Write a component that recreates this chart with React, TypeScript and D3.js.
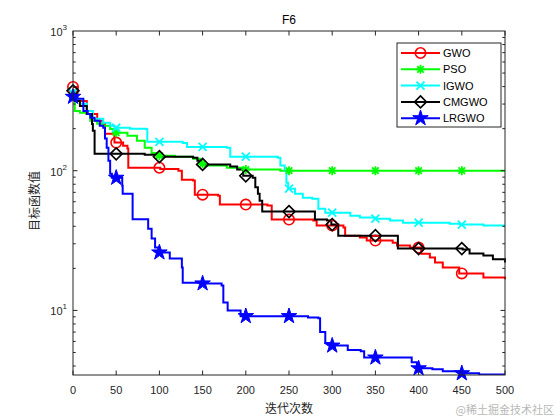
import React, { useRef, useEffect } from "react";
import * as d3 from "d3";

// convergence curves (iteration where a level starts, level value)
const gwoIter = [0, 5, 16, 28, 34, 37, 48, 58, 63, 64, 101, 122, 126, 139, 141, 168, 170, 225, 230, 278, 282, 313, 315, 332, 340, 370, 375, 390, 403, 413, 419, 428, 447, 475, 500];
const gwoVal = [398, 316, 255, 228, 217, 184, 159, 151, 144, 105, 103, 100, 86, 85, 67.4, 66.3, 57.2, 56.3, 44.7, 44, 40.5, 39.2, 34.3, 33.2, 31.6, 30.5, 29.1, 28.2, 25.5, 23.9, 22, 20.3, 18.4, 17.2, 16.7];

const psoIter = [0, 2, 8, 16, 20, 28, 35, 43, 48, 63, 74, 83, 91, 99, 118, 139, 147, 153, 178, 199, 240, 500];
const psoVal = [343, 268, 260, 255, 228, 217, 210, 199, 187, 178, 164, 146, 134, 128, 126, 122, 112, 109, 105, 102, 100, 100];

const igwoIter = [0, 2, 8, 16, 23, 35, 43, 48, 66, 84, 86, 101, 127, 132, 150, 178, 182, 199, 237, 240, 245, 247, 249, 257, 266, 277, 284, 292, 302, 321, 332, 349, 367, 382, 403, 436, 448, 475, 500];
const igwoVal = [360, 327, 301, 268, 235, 220, 210, 203, 200, 199, 161, 161, 158, 148, 148, 146, 126, 126, 124, 109, 100, 82, 74.4, 68.5, 64.1, 63.1, 53.5, 50.1, 50.1, 47.7, 46.2, 45.4, 44, 42.5, 42.5, 41.8, 41.2, 40.5, 40.5];

const cmgwoIter = [0, 2, 8, 16, 22, 23, 25, 83, 98, 139, 144, 149, 182, 190, 197, 208, 211, 214, 216, 219, 274, 280, 294, 299, 307, 375, 376, 444, 451, 459, 475, 486, 500];
const cmgwoVal = [373, 316, 291, 255, 216, 193, 132, 130, 126, 124, 118, 111, 107, 102, 92, 89, 76, 68.5, 61, 51, 51, 44.7, 44, 41.2, 34.3, 34.3, 27.7, 27.7, 27.3, 25.6, 24.7, 23.2, 22];

const lrgwoIter = [0, 5, 12, 17, 20, 25, 31, 35, 37, 39, 41, 43, 45, 51, 57, 57.5, 68, 69, 81, 87, 91, 95, 99, 112, 126, 127, 150, 172, 174, 179, 194, 272, 284, 286, 292, 299, 318, 333, 337, 387, 392, 398, 416, 428, 448, 470, 500];
const lrgwoVal = [338, 327, 268, 255, 239, 228, 210, 203, 170, 146, 118, 95, 89, 89, 78, 68.5, 68.5, 45, 45, 38.5, 32.7, 28.2, 26, 23.5, 20.3, 15.8, 15.6, 15.1, 11.4, 10, 9.1, 8.9, 8.8, 7.0, 5.85, 5.6, 5.2, 5.1, 4.6, 4.6, 4.25, 3.85, 3.79, 3.67, 3.55, 3.48, 3.48];

const seriesNames = ["GWO", "PSO", "IGWO", "CMGWO", "LRGWO"];
const seriesColors = ["#ff0000", "#00ff00", "#00ffff", "#000000", "#0000ff"];
const seriesMarkers = ["o", "*", "x", "d", "p"];
const seriesIters = [gwoIter, psoIter, igwoIter, cmgwoIter, lrgwoIter];
const seriesVals = [gwoVal, psoVal, igwoVal, cmgwoVal, lrgwoVal];

const markerIters = [0, 50, 100, 150, 200, 250, 300, 350, 400, 450];
const xTicks = [0, 50, 100, 150, 200, 250, 300, 350, 400, 450, 500];
const yTickExps = [1, 2, 3];

const W = 560;
const H = 420;
const margin = { left: 73, right: 55, top: 31, bottom: 45 };

const axisColor = "#262626";
const font = "'Liberation Sans', Arial, sans-serif";
const cjkFont = "'Noto Sans CJK SC', sans-serif";

function drawMarker(g: any, type: string, color: string) {
  if (type === "o") {
    g.append("circle").attr("r", 5.2).attr("fill", "none").attr("stroke", color).attr("stroke-width", 1.6);
  } else if (type === "d") {
    const s = 6;
    g.append("path")
      .attr("d", `M0,${-s}L${s},0L0,${s}L${-s},0Z`)
      .attr("fill", "none")
      .attr("stroke", color)
      .attr("stroke-width", 1.6);
  } else if (type === "x") {
    const s = 4;
    g.append("path")
      .attr("d", `M${-s},${-s}L${s},${s}M${-s},${s}L${s},${-s}`)
      .attr("stroke", color)
      .attr("stroke-width", 1.8);
  } else if (type === "*") {
    const s = 4.5;
    const d = s * 0.72;
    g.append("path")
      .attr("d", `M${-s},0L${s},0M0,${-s}L0,${s}M${-d},${-d}L${d},${d}M${-d},${d}L${d},${-d}`)
      .attr("stroke", color)
      .attr("stroke-width", 1.8);
  } else if (type === "p") {
    g.append("path")
      .attr("d", d3.symbol().type(d3.symbolStar).size(75)())
      .attr("fill", color)
      .attr("stroke", color)
      .attr("stroke-width", 1);
  }
}

export default function App() {
  const svgRef = useRef<SVGSVGElement | null>(null);

  useEffect(() => {
    if (!svgRef.current) return;
    const svg = d3.select(svgRef.current);
    svg.selectAll("*").remove();

    const x = d3.scaleLinear().domain([0, 500]).range([margin.left, W - margin.right]);
    const y = d3.scaleLog().domain([3.45, 1000]).range([H - margin.bottom, margin.top]);
    const [x0, x1] = x.range();
    const [y0, y1] = y.range();

    svg.append("rect").attr("width", W).attr("height", H).attr("fill", "#ffffff");

    svg.append("defs").append("clipPath").attr("id", "plot-clip")
      .append("rect").attr("x", x0).attr("y", y1 - 8).attr("width", x1 - x0 + 1).attr("height", y0 - y1 + 8);

    // curves
    const plot = svg.append("g").attr("clip-path", "url(#plot-clip)");
    seriesNames.forEach((name, si) => {
      const pts = seriesIters[si].map((it, i) => [it, seriesVals[si][i]] as [number, number]);
      const line = d3.line<[number, number]>()
        .x((d) => x(d[0]))
        .y((d) => y(d[1]))
        .curve(d3.curveStepAfter);
      plot.append("path")
        .datum(pts)
        .attr("fill", "none")
        .attr("stroke", seriesColors[si])
        .attr("stroke-width", 2)
        .attr("d", line);

      markerIters.forEach((mi) => {
        const idx = d3.bisectRight(seriesIters[si], mi) - 1;
        const v = seriesVals[si][Math.max(0, idx)];
        const g = svg.append("g").attr("transform", `translate(${x(mi)},${y(v)})`);
        drawMarker(g, seriesMarkers[si], seriesColors[si]);
      });
    });

    // axes box and ticks
    const axes = svg.append("g").attr("stroke", axisColor).attr("stroke-width", 1).attr("fill", "none");
    axes.append("rect").attr("x", x0).attr("y", y1).attr("width", x1 - x0).attr("height", y0 - y1);

    xTicks.forEach((t) => {
      const px = x(t);
      axes.append("line").attr("x1", px).attr("x2", px).attr("y1", y0).attr("y2", y0 - 4.5);
      axes.append("line").attr("x1", px).attr("x2", px).attr("y1", y1).attr("y2", y1 + 4.5);
      svg.append("text")
        .attr("x", px)
        .attr("y", y0 + 19)
        .attr("text-anchor", "middle")
        .attr("font-family", font)
        .attr("font-size", 11)
        .attr("fill", axisColor)
        .text(String(t));
    });

    const [yd0, yd1] = y.domain();
    for (let e = 0; e <= 2; e++) {
      for (let m = 1; m <= 9; m++) {
        const v = m * Math.pow(10, e);
        if (v < yd0 || v > yd1) continue;
        const py = y(v);
        const len = m === 1 ? 4.5 : 2.7;
        axes.append("line").attr("x1", x0).attr("x2", x0 + len).attr("y1", py).attr("y2", py);
        axes.append("line").attr("x1", x1).attr("x2", x1 - len).attr("y1", py).attr("y2", py);
      }
    }

    yTickExps.forEach((e) => {
      const py = y(Math.pow(10, e));
      const t = svg.append("text")
        .attr("x", x0 - 6)
        .attr("y", py + 5)
        .attr("text-anchor", "end")
        .attr("font-family", font)
        .attr("font-size", 11)
        .attr("fill", axisColor);
      t.append("tspan").text("10");
      t.append("tspan").attr("dy", -6).attr("font-size", 8).text(String(e));
    });

    // title and axis labels
    svg.append("text")
      .attr("x", (x0 + x1) / 2)
      .attr("y", 24)
      .attr("text-anchor", "middle")
      .attr("font-family", font)
      .attr("font-size", 12)
      .attr("fill", "#000000")
      .text("F6");

    svg.append("text")
      .attr("x", (x0 + x1) / 2)
      .attr("y", 413)
      .attr("text-anchor", "middle")
      .attr("font-family", cjkFont)
      .attr("font-size", 12)
      .attr("fill", axisColor)
      .text("迭代次数");

    svg.append("text")
      .attr("transform", "translate(39,201) rotate(-90)")
      .attr("text-anchor", "middle")
      .attr("font-family", cjkFont)
      .attr("font-size", 12)
      .attr("fill", axisColor)
      .text("目标函数值");

    // legend
    const lg = svg.append("g").attr("transform", "translate(397,43)");
    lg.append("rect").attr("width", 104).attr("height", 84).attr("fill", "#ffffff").attr("stroke", axisColor).attr("stroke-width", 1);
    seriesNames.forEach((name, i) => {
      const ly = 10 + i * 16.3;
      lg.append("line").attr("x1", 4).attr("x2", 43).attr("y1", ly).attr("y2", ly)
        .attr("stroke", seriesColors[i]).attr("stroke-width", 2);
      drawMarker(lg.append("g").attr("transform", `translate(23.5,${ly})`), seriesMarkers[i], seriesColors[i]);
      lg.append("text")
        .attr("x", 46)
        .attr("y", ly + 4)
        .attr("font-family", font)
        .attr("font-size", 11)
        .attr("fill", "#000000")
        .text(name);
    });

    // watermark
    svg.append("text")
      .attr("x", 554)
      .attr("y", 414)
      .attr("text-anchor", "end")
      .attr("font-family", cjkFont)
      .attr("font-size", 11)
      .attr("fill", "#b8b8b8")
      .text("@稀土掘金技术社区");
  }, []);

  return (
    <svg
      ref={svgRef}
      width={W}
      height={H}
      style={{ position: "absolute", left: 0, top: 0, display: "block" }}
    />
  );
}
